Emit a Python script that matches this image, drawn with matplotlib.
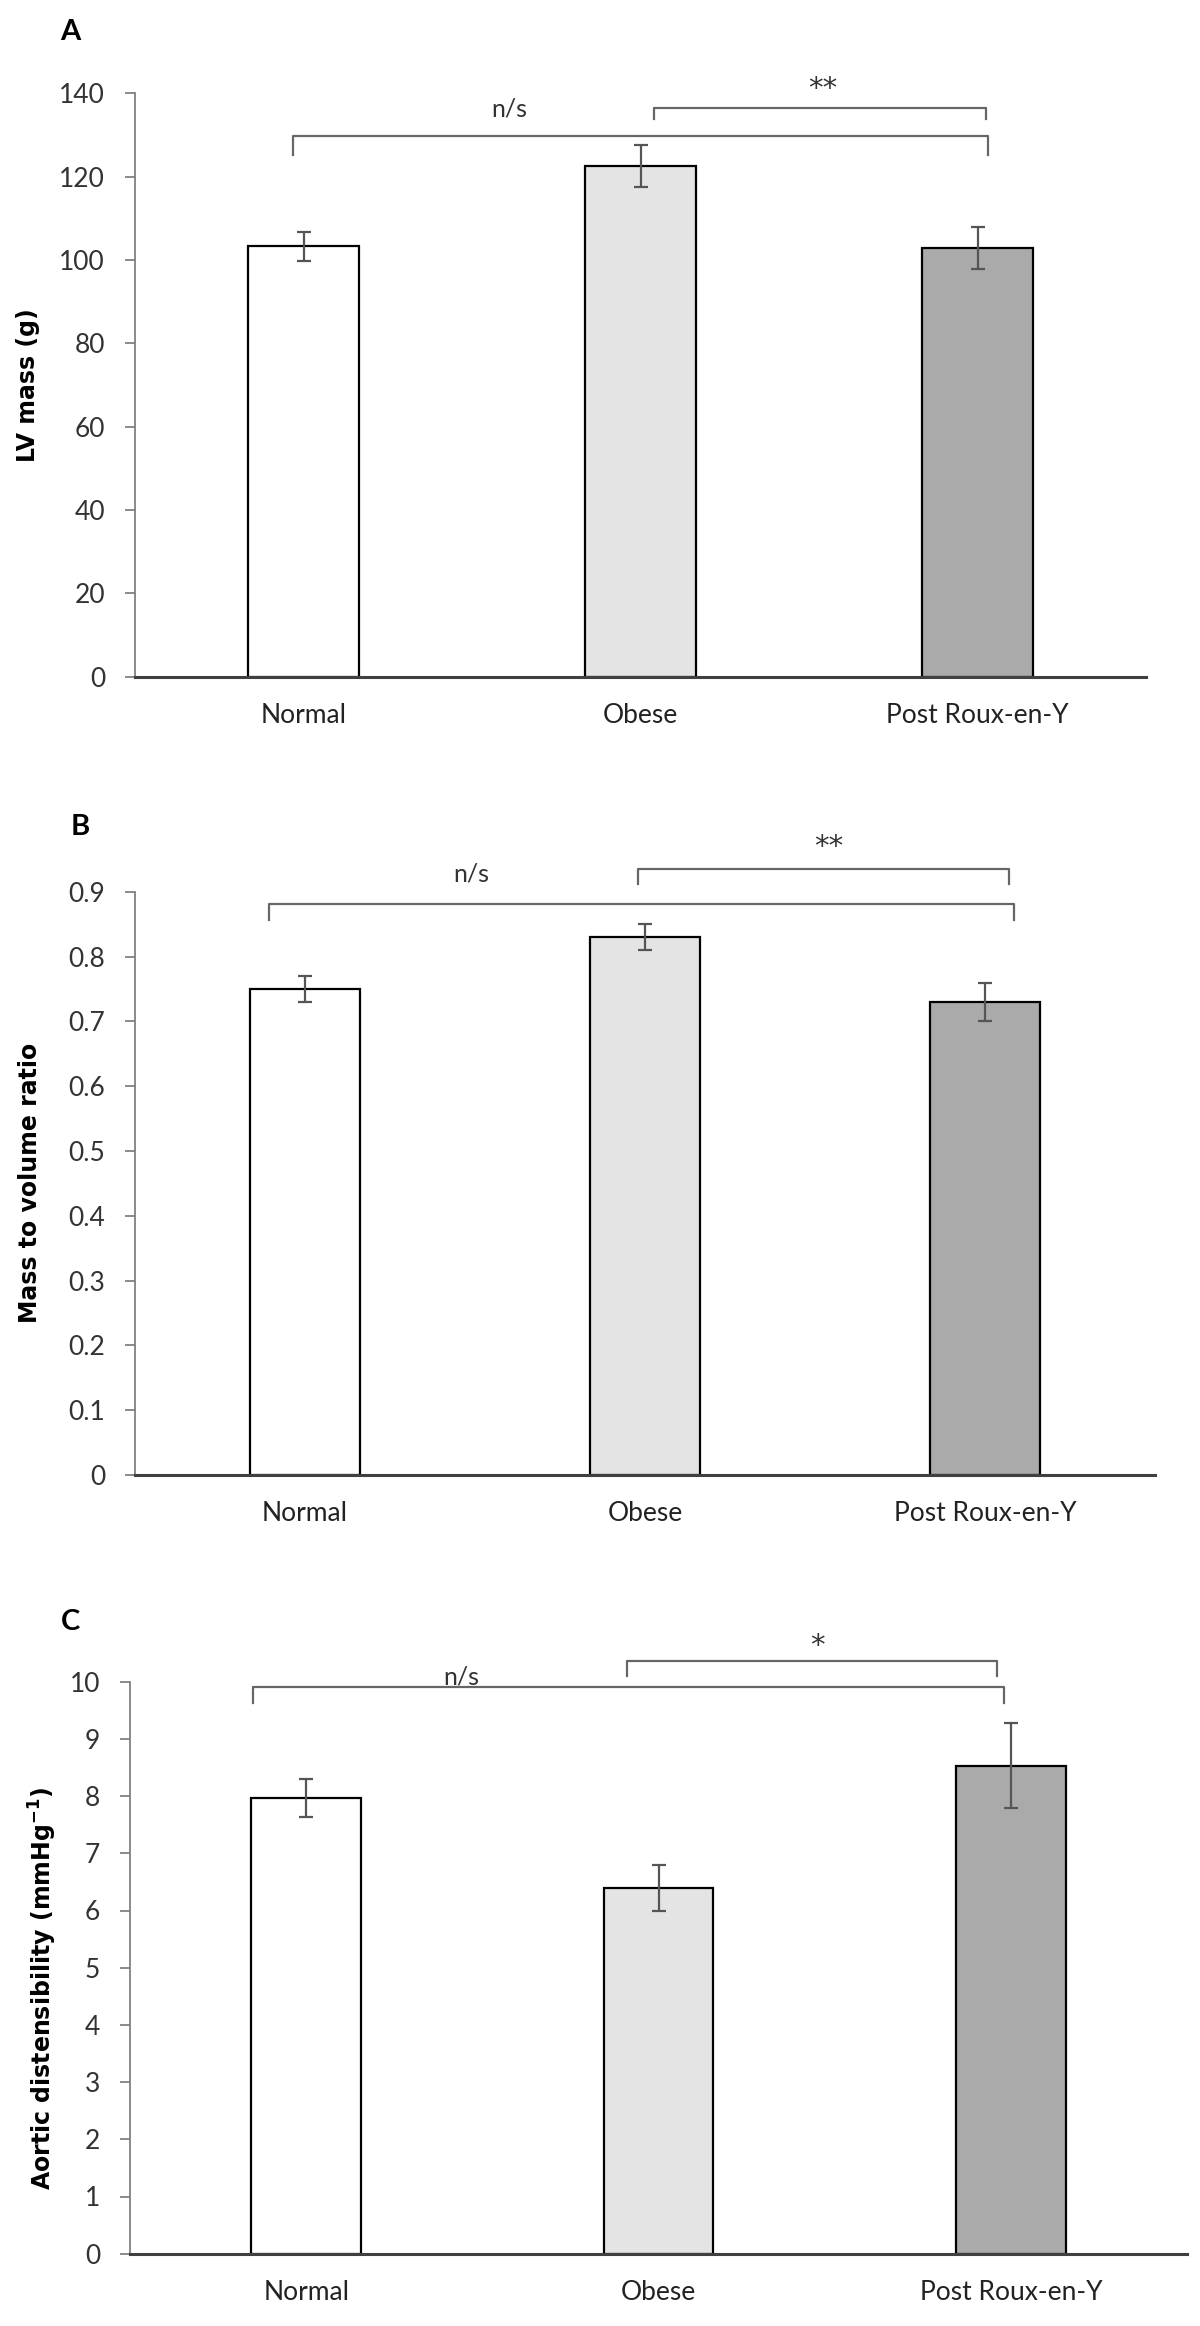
import matplotlib
matplotlib.use("Agg")
from matplotlib import pyplot as plt
from matplotlib import transforms as mtransforms
import numpy as np

# data
groups = ["Normal", "Obese", "Post Roux-en-Y"]
lv_mass = [103.3, 122.5, 102.8]
lv_mass_err = [3.5, 5.0, 5.0]
mass_vol = [0.75, 0.83, 0.73]
mass_vol_err = [0.02, 0.02, 0.03]
aortic_dist = [7.97, 6.40, 8.53]
aortic_dist_err = [0.33, 0.40, 0.74]

# significance brackets: (x0, x1, y, y_drop, label, label_x, label_y)
brackets_a = [(-0.03, 2.03, 129.8, 125.2, "n/s", 0.61, 136.3),
              (1.04, 2.025, 136.5, 133.8, "**", 1.54, 141.0)]
brackets_b = [(-0.105, 2.085, 0.8816, 0.857, "n/s", 0.49, 0.928),
              (0.98, 2.07, 0.9355, 0.912, "**", 1.54, 0.969)]
brackets_c = [(-0.15, 1.98, 9.90, 9.62, "n/s", 0.44, 10.09),
              (0.91, 1.96, 10.36, 10.10, "*", 1.45, 10.62)]

colors = ["#ffffff", "#e4e4e4", "#aaaaaa"]
W, H = 1200, 2326
fig = plt.figure(figsize=(W / 100, H / 100), dpi=100)


def panel(rect, values, errs, ymax, yticks, yticklabels, width, ylabel,
          label_pos, letter, letter_pos, brackets):
    left, top, right, bottom = rect
    ax = fig.add_axes([left / W, 1 - bottom / H, (right - left) / W, (bottom - top) / H])
    x = np.arange(len(groups))
    ax.bar(x, values, width=width, color=colors, edgecolor="black", linewidth=1.6, zorder=2)
    ax.errorbar(x, values, yerr=errs, fmt="none", ecolor="#555555", elinewidth=1.6,
                capsize=5, capthick=1.6, zorder=3)
    ax.set_xlim(-0.5, 2.5)
    ax.set_ylim(0, ymax)
    ax.set_yticks(yticks)
    ax.set_yticklabels(yticklabels, fontfamily="Lato", fontsize=19, color="#333333")
    ax.set_xticks(x)
    ax.set_xticklabels(groups, fontfamily="Lato", fontsize=19, color="#222222")
    ax.tick_params(axis="x", length=0, pad=19)
    ax.tick_params(axis="y", length=7.5, width=1.2, color="#777777", pad=14)
    for s in ["top", "right"]:
        ax.spines[s].set_visible(False)
    ax.spines["left"].set_color("#777777")
    ax.spines["left"].set_linewidth(1.2)
    ax.spines["bottom"].set_color("#404040")
    ax.spines["bottom"].set_linewidth(2.2)
    tr = mtransforms.blended_transform_factory(fig.transFigure, ax.transAxes)
    ax.set_ylabel(ylabel, fontfamily="DejaVu Sans", fontweight="bold", fontsize=17)
    ax.yaxis.set_label_coords(label_pos[0] / W, label_pos[1], transform=tr)
    ax.yaxis.label.set_va("center")
    fig.text(letter_pos[0] / W, 1 - letter_pos[1] / H, letter, fontfamily="Lato",
             fontweight="bold", fontsize=21, ha="center", va="center")
    for x0, x1, y, yd, txt, tx, ty in brackets:
        ax.plot([x0, x0, x1, x1], [yd, y, y, yd], color="#666666", lw=1.6,
                clip_on=False, zorder=4)
        if "*" in txt:
            ax.text(tx, ty, txt, fontfamily="DejaVu Sans", fontsize=21, color="#333333",
                    ha="center", va="center", clip_on=False)
        else:
            ax.text(tx, ty, txt, fontfamily="Lato", fontsize=18, color="#333333",
                    ha="center", va="center", clip_on=False)
    return ax


panel((135, 93.3, 1146, 676.6), lv_mass, lv_mass_err, 140, list(range(0, 141, 20)),
      [str(v) for v in range(0, 141, 20)], 0.327, "LV mass (g)",
      (28, 0.5), "A", (70, 32), brackets_a)

bticks = [i / 10 for i in range(10)]
panel((135, 891.8, 1155, 1474.9), mass_vol, mass_vol_err, 0.9, bticks,
      ["0"] + [f"{v:.1f}" for v in bticks[1:]], 0.325, "Mass to volume ratio",
      (30, 0.5), "B", (80, 827), brackets_b)

panel((130, 1681.7, 1187, 2253.7), aortic_dist, aortic_dist_err, 10, list(range(11)),
      [str(v) for v in range(11)], 0.312, "Aortic distensibility (mmHg$^{\\mathregular{-1}}$)",
      (43, 0.4645), "C", (71, 1622), brackets_c)

plt.savefig("out.png", dpi=100)
